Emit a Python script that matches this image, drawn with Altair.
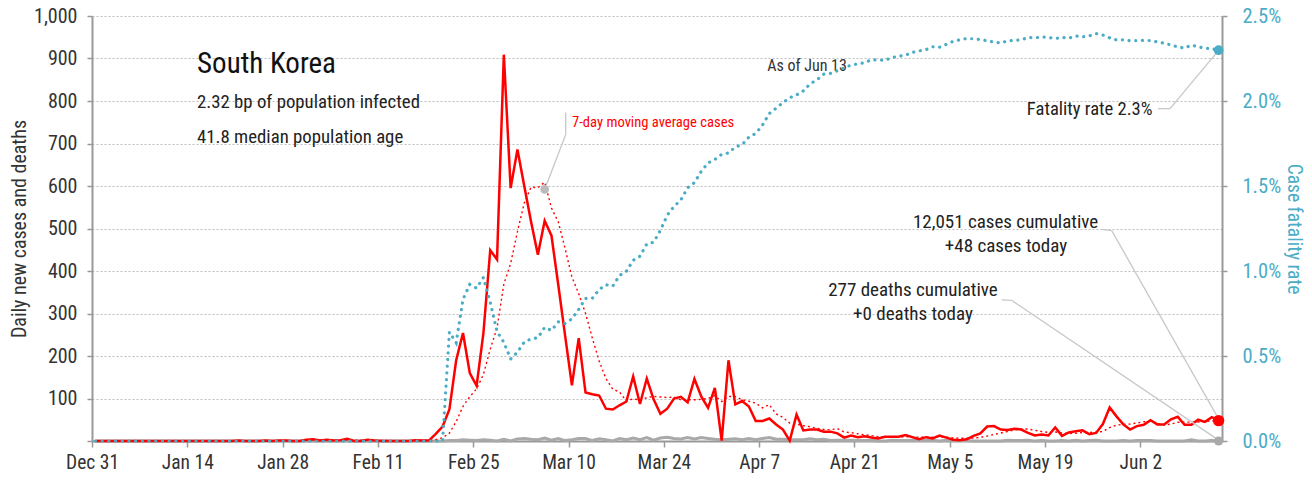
import altair as alt
import pandas as pd

# ---------------- data ----------------
# daily new cases, Dec 31 2019 .. Jun 13 2020 (one value per day)
cases = [
    0, 0, 0, 0, 0, 0, 0, 0, 0, 0,
    0, 0, 0, 0, 0, 0, 0, 0, 0, 0,
    0, 1, 0, 0, 0, 1, 0, 1, 1, 0,
    0, 3, 4, 1, 3, 1, 2, 5, 0, 0,
    3, 1, 0, 0, 0, 0, 0, 2, 1, 1,
    17, 34, 74, 190, 254, 160, 130, 254, 449, 427,
    909, 595, 686, 600, 516, 438, 518, 483, 367, 248,
    131, 242, 114, 110, 107, 76, 74, 84, 93, 152,
    87, 147, 98, 64, 76, 100, 104, 91, 146, 105,
    78, 125, 1, 190, 86, 94, 81, 47, 47, 53,
    39, 27, 1, 62, 25, 27, 27, 22, 22, 18,
    8, 13, 9, 11, 8, 6, 10, 10, 10, 14,
    9, 4, 9, 6, 13, 8, 3, 2, 4, 12,
    18, 34, 35, 27, 26, 29, 27, 19, 13, 15,
    13, 32, 12, 20, 23, 25, 16, 19, 40, 79,
    58, 39, 27, 35, 38, 49, 39, 39, 51, 57,
    38, 38, 50, 45, 56, 48,
]
# daily deaths, same days
deaths = [0] * 50 + [
    0, 0, 1, 1, 3, 2, 1, 3, 2, 0,
    4, 0, 5, 6, 4, 3, 7, 2, 6, 1,
    3, 6, 6, 1, 5, 3, 0, 6, 3, 7,
    3, 8, 2, 7, 9, 6, 5, 8, 5, 8,
    6, 4, 3, 4, 5, 3, 6, 3, 6, 8,
    4, 4, 3, 3, 3, 5, 3, 4, 1, 2,
    2, 2, 1, 1, 2, 0, 0, 2, 1, 1,
    2, 1, 1, 2, 0, 2, 2, 1, 1, 0,
    0, 0, 0, 0, 2, 1, 1, 2, 0, 1,
    0, 0, 1, 0, 2, 0, 1, 2, 0, 0,
    0, 1, 0, 1, 1, 1, 0, 0, 0, 0,
    0, 3, 0, 0, 1, 0,
]
tick_dates = [(2019, 12, 31), (2020, 1, 14), (2020, 1, 28), (2020, 2, 11),
              (2020, 2, 25), (2020, 3, 10), (2020, 3, 24), (2020, 4, 7),
              (2020, 4, 21), (2020, 5, 5), (2020, 5, 19), (2020, 6, 2)]
left_ticks = [0, 100, 200, 300, 400, 500, 600, 700, 800, 900, 1000]
right_ticks = [0, 0.005, 0.01, 0.015, 0.02, 0.025]

title_lines = ["South Korea", "2.32 bp of population infected", "41.8 median population age"]
ma_label = "7-day moving average cases"
asof_label = "As of Jun 13"
cfr_label = "Fatality rate 2.3%"
cases_lines = ["12,051 cases cumulative", "+48 cases today"]
deaths_lines = ["277 deaths cumulative", "+0 deaths today"]

# ---------------- build tables ----------------
N = len(cases)
START = pd.Timestamp("2019-12-31")


def at(dd):
    return (START + pd.Timedelta(days=dd)).strftime("%Y-%m-%dT%H:%M:%S")


df = pd.DataFrame({
    "day": list(range(N)),
    "date": [at(i + 0.5) for i in range(N)],
    "cases": cases,
    "deaths": deaths,
})
LAST = N - 1

BLUE = "#4bacc6"
RED = "#ff0000"
GRAY = "#a9a9a9"
LEAD = "#c8c8c8"
INK = "#222222"
FONT = "Roboto Condensed, Liberation Sans Narrow, DejaVu Sans Condensed, sans-serif"

xsc = alt.Scale(domain=[alt.DateTime(year=2019, month=12, date=31),
                        alt.DateTime(year=2020, month=6, date=14)], nice=False)
x_axis = alt.Axis(values=[alt.DateTime(year=y, month=m, date=d) for y, m, d in tick_dates],
                  format="%b %-d", title=None, grid=False, tickSize=6,
                  labelPadding=6, labelFontSize=19.5, labelFlush=False)
X = alt.X("date:T", scale=xsc, axis=x_axis)
X2 = alt.X2("date2:T")

ysc = alt.Scale(domain=[0, 1000], nice=False)
left_axis = alt.Axis(orient="left", values=left_ticks,
                     labelExpr="datum.value == 0 ? '' : format(datum.value, ',')",
                     grid=True, gridColor="#bdbdbd", gridDash=[2, 2], gridWidth=1,
                     tickSize=5, labelPadding=10, labelFontSize=20,
                     title="Daily new cases and deaths", titleX=-73,
                     titleBaseline="middle", titleFontSize=20)


def YL(field):
    return alt.Y(f"{field}:Q", scale=ysc, axis=left_axis)


base = alt.Chart(df)

deaths_line = base.mark_line(color=GRAY, strokeWidth=3).encode(x=X, y=YL("deaths"))
ma_line = base.transform_window(
    ma="mean(cases)", frame=[-6, 0], sort=[{"field": "day"}]
).mark_line(color=RED, strokeWidth=1.4, strokeDash=[2, 3]).encode(x=X, y=YL("ma"))
cases_line = base.mark_line(color=RED, strokeWidth=2.5).encode(x=X, y=YL("cases"))

# leader lines (in data coordinates)
segs = [
    (66.5, 592, 69.59, 721), (69.59, 721, 69.59, 773),
    (156.6, 782, 158.37, 782), (158.37, 782, 165.5, 919),
    (148.33, 498, 149.8, 495), (149.8, 495, 165.5, 52),
    (133.64, 332, 135.1, 331), (135.1, 331, 165.5, 2),
]
seg_df = pd.DataFrame([{"date": at(a), "v": b, "date2": at(c), "v2": d} for a, b, c, d in segs])
leaders = alt.Chart(seg_df).mark_rule(color=LEAD, strokeWidth=1.3).encode(
    x=X, x2=X2, y=YL("v"), y2=alt.Y2("v2:Q"))

ma_dot = alt.Chart(pd.DataFrame({"date": [at(66.5)], "v": [592]})).mark_circle(
    color="#bbbbbb", size=75, opacity=1).encode(x=X, y=YL("v"))

end_gray = base.transform_filter(f"datum.day == {LAST}").mark_circle(
    color=GRAY, size=85, opacity=1).encode(x=X, y=YL("deaths"))
end_red = base.transform_filter(f"datum.day == {LAST}").mark_circle(
    color=RED, size=130, opacity=1).encode(x=X, y=YL("cases"))


def texts(rows, **kw):
    d = pd.DataFrame([{"date": at(a), "v": b, "label": t} for a, b, t in rows])
    return alt.Chart(d).mark_text(font=FONT, baseline="alphabetic", **kw).encode(
        x=X, y=YL("v"), text="label:N")


t_title = texts([(15.43, 865, title_lines[0])], align="left", fontSize=29, color="#111")
t_sub = texts([(15.43, 784, title_lines[1]), (15.43, 702, title_lines[2])],
              align="left", fontSize=18.8, color=INK)
t_ma = texts([(70.52, 738, ma_label)], align="left", fontSize=14.6, color=RED)
t_asof = texts([(105.04, 870, asof_label)], align="center", fontSize=16, color="#333")
t_cfr = texts([(155.8, 767, cfr_label)], align="right", fontSize=18.6, color=INK)
t_center = texts([(134.2, 502, cases_lines[0]), (134.27, 444, cases_lines[1]),
                  (120.6, 341, deaths_lines[0]), (120.6, 284, deaths_lines[1])],
                 align="center", fontSize=19, color=INK)

layer_left = alt.layer(deaths_line, ma_line, cases_line, leaders, ma_dot,
                       end_gray, end_red, t_title, t_sub, t_ma, t_asof, t_cfr, t_center)

# ---------------- case fatality rate (right axis) ----------------
right_axis = alt.Axis(orient="right", values=right_ticks, format=".1%", grid=False,
                      tickSize=5, labelPadding=15, labelColor=BLUE, titleColor=BLUE,
                      labelFontSize=20.5, titleFontSize=19.5,
                      title="Case fatality rate", titleX=71, titleBaseline="middle")
YR = alt.Y("cfr:Q", scale=alt.Scale(domain=[0, 0.025], nice=False), axis=right_axis)

cfr_base = base.transform_window(
    cc="sum(cases)", cd="sum(deaths)", frame=[None, 0], sort=[{"field": "day"}]
).transform_calculate(cfr="datum.cc > 0 ? datum.cd / datum.cc : 0")
cfr_line = cfr_base.mark_line(color=BLUE, strokeWidth=3.2, strokeDash=[0.1, 6.6],
                              strokeCap="round").encode(x=X, y=YR)
cfr_dot = cfr_base.transform_filter(f"datum.day == {LAST}").mark_circle(
    color=BLUE, size=95, opacity=1).encode(x=X, y=YR)
layer_right = alt.layer(cfr_line, cfr_dot)

chart = alt.layer(layer_left, layer_right).resolve_scale(y="independent").properties(
    width=1130, height=425,
    padding={"left": 84, "top": 8, "right": 82, "bottom": 33},
    autosize=alt.AutoSizeParams(type="none"),
).configure_axis(
    labelFont=FONT, titleFont=FONT, labelFontSize=20, titleFontSize=20,
    labelColor="#333", titleColor="#333", titleFontWeight="normal",
    domainColor="#999", tickColor="#999", domainWidth=2, tickWidth=1.5,
).configure_view(stroke=None)

chart.save("out.html", embed_options={"renderer": "svg", "actions": False})
